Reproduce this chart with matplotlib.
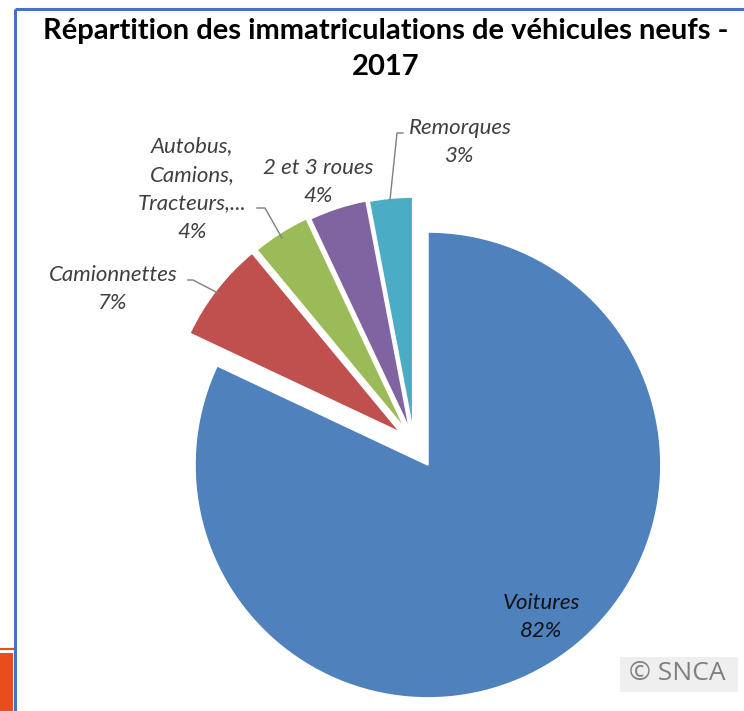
import matplotlib
matplotlib.use("Agg")
import matplotlib.pyplot as plt
from matplotlib.patches import Rectangle

# données (SNCA, 2017)
categories = ["Voitures", "Camionnettes", "Autobus,\nCamions,\nTracteurs,...", "2 et 3 roues", "Remorques"]
parts = [82, 7, 4, 4, 3]
colors = ["#4F81BD", "#C0504D", "#9BBB59", "#8064A2", "#4BACC6"]
explode = [26, 17, 16, 14, 13]  # en pixels (le rayon vaut 233)

W, H = 744, 711
fig = plt.figure(figsize=(W / 100, H / 100), dpi=100)
ax = fig.add_axes([0, 0, 1, 1])


def py(y):  # coordonnée image -> coordonnée matplotlib
    return H - y


ax.pie(parts, colors=colors, explode=explode, startangle=90, counterclock=False,
       center=(414, py(443)), radius=233,
       wedgeprops=dict(edgecolor="white", linewidth=1.2))
ax.set_xlim(0, W)
ax.set_ylim(0, H)
ax.set_aspect("equal")
ax.axis("off")

# cadre du graphique
ax.plot([15, 15], [py(9), 0], color="#4472C4", lw=2.2, solid_capstyle="butt")
ax.plot([15, W], [py(9), py(9)], color="#4472C4", lw=2.2, solid_capstyle="butt")
ax.add_patch(Rectangle((0, 0), 13, py(653), color="#E84E1B", lw=0))
ax.plot([0, 13], [py(649), py(649)], color="#E84E1B", lw=1.5)

ax.text(386, py(49), "Répartition des immatriculations de véhicules neufs -\n2017",
        ha="center", va="center", fontsize=21, fontweight="bold", family="Lato",
        linespacing=1.5, color="#000000")

lab = dict(ha="center", va="center", fontsize=16, style="italic", family="Lato",
           color="#404040", linespacing=1.55)
pct = [f"{p}%" for p in parts]
ax.text(541, py(617), f"{categories[0]}\n{pct[0]}", **{**lab, "color": "#111111"})
ax.text(113, py(289), f"{categories[1]}\n{pct[1]}", **lab)
ax.text(192, py(189), f"{categories[2]}\n{pct[2]}", **lab)
ax.text(318, py(182), f"{categories[3]}\n{pct[3]}", **lab)
ax.text(460, py(142), f"{categories[4]}\n{pct[4]}", **lab)

# traits de rappel
lc = dict(color="#7F7F7F", lw=1)
ax.plot([188, 193, 218], [py(280), py(280), py(293)], **lc)
ax.plot([257, 265, 282], [py(208), py(208), py(238)], **lc)
ax.plot([403, 397, 390], [py(133), py(133), py(200)], **lc)

# copyright
ax.add_patch(Rectangle((620, py(692)), 118, 35, color="#EFEFEF", lw=0))
ax.text(677, py(674), "© SNCA", ha="center", va="center", fontsize=19,
        family="Open Sans", color="#7F7F7F")

fig.savefig("out.png", dpi=100)
